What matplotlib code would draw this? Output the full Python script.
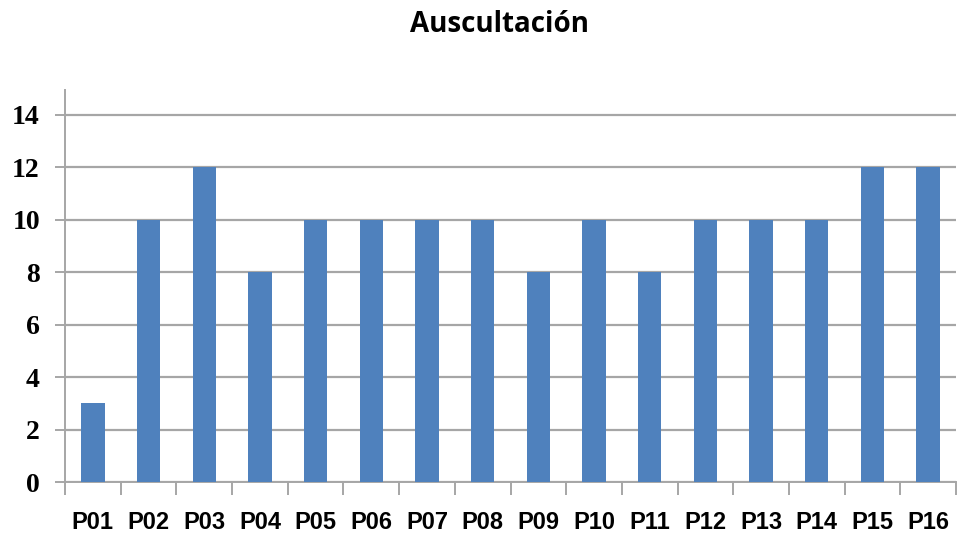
import matplotlib
matplotlib.use("Agg")
import matplotlib.pyplot as plt
import numpy as np

categories = ["P01", "P02", "P03", "P04", "P05", "P06", "P07", "P08",
              "P09", "P10", "P11", "P12", "P13", "P14", "P15", "P16"]
values = [3, 10, 12, 8, 10, 10, 10, 10, 8, 10, 8, 10, 10, 10, 12, 12]
y_ticks = [0, 2, 4, 6, 8, 10, 12, 14]
title = "Auscultación"

bar_color = "#4F81BD"
grid_color = "#A6A6A6"

fig = plt.figure(figsize=(9.59, 5.35), dpi=100)
ax = fig.add_axes([65 / 959, 1 - 482 / 535, (956 - 65) / 959, (482 - 90) / 535])

x = np.arange(len(categories))
ax.bar(x, values, width=0.42, color=bar_color, zorder=3)

ax.set_xlim(-0.5, len(categories) - 0.5)
ax.set_ylim(0, 14.95)
ax.set_yticks(y_ticks)
ax.set_yticklabels([str(v) for v in y_ticks], fontfamily="Liberation Serif",
                   fontweight="bold", fontsize=20)
ax.yaxis.grid(True, color=grid_color, linewidth=1.6, zorder=0)
ax.tick_params(axis="y", length=7, width=1.4, color=grid_color, pad=11)

ax.set_xticks(x)
ax.set_xticklabels(categories, fontfamily="Liberation Sans", fontweight="bold",
                   fontsize=17)
ax.tick_params(axis="x", which="major", length=0, pad=21)
ax.set_xticks(np.arange(len(categories) + 1) - 0.5, minor=True)
ax.tick_params(axis="x", which="minor", length=9, width=1.4, color=grid_color)

for side in ("top", "right"):
    ax.spines[side].set_visible(False)
for side in ("left", "bottom"):
    ax.spines[side].set_color(grid_color)
    ax.spines[side].set_linewidth(1.4)

fig.text(500 / 959, 1 - 24 / 535, title, ha="center", va="center",
         fontfamily="Open Sans", fontweight="bold", fontsize=20)

fig.savefig("out.png", dpi=100, facecolor="white")
